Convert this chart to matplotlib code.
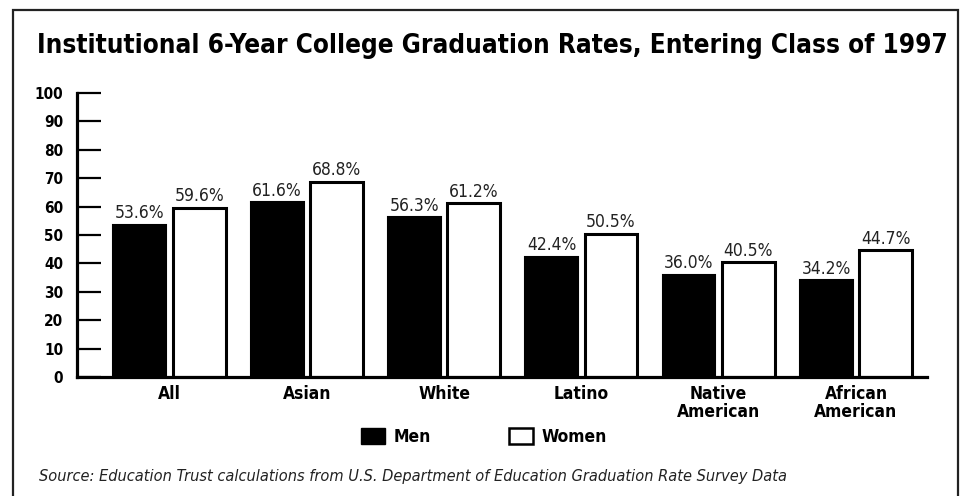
import matplotlib.pyplot as plt
from matplotlib import font_manager
from matplotlib.patches import Rectangle, Patch
import numpy as np

categories = ["All", "Asian", "White", "Latino", "Native\nAmerican", "African\nAmerican"]
men = [53.6, 61.6, 56.3, 42.4, 36.0, 34.2]
women = [59.6, 68.8, 61.2, 50.5, 40.5, 44.7]
yticks = [0, 10, 20, 30, 40, 50, 60, 70, 80, 90, 100]

title = "Institutional 6-Year College Graduation Rates, Entering Class of 1997"
source = "Source: Education Trust calculations from U.S. Department of Education Graduation Rate Survey Data"

# look for a narrow/condensed face, the original uses Helvetica Condensed
files = [f.fname for f in font_manager.fontManager.ttflist]

def pick(need, avoid):
    for f in files:
        low = f.lower().split("/")[-1]
        if not ("condensed" in low or "narrow" in low):
            continue
        if any(a in low for a in avoid + ["mono", "serif", "semi", "light", "extra", "black", "medium", "thin"]):
            continue
        if need and not any(n in low for n in need):
            continue
        return f
    return None

def fp(kind, size):
    if kind == "bold":
        f = pick(["bold"], ["oblique", "italic"])
    elif kind == "italic":
        f = pick(["oblique", "italic"], ["bold"])
    else:
        f = pick([], ["bold", "oblique", "italic"])
    if f is None:
        return font_manager.FontProperties(family="DejaVu Sans", size=size,
                                           weight="bold" if kind == "bold" else "normal",
                                           style="italic" if kind == "italic" else "normal")
    return font_manager.FontProperties(fname=f, size=size)

fig = plt.figure(figsize=(9.62, 4.96), dpi=100)
ax = fig.add_axes([0.080, 0.240, 0.8836, 0.5725])

x = np.arange(len(categories))
w = 0.385
off = 0.216
ax.bar(x - off, men, width=w, color="black", edgecolor="black", linewidth=1.5, label="Men")
ax.bar(x + off, women, width=w, color="white", edgecolor="black", linewidth=2.2, label="Women")

for xi, m, f in zip(x, men, women):
    ax.text(xi - off, m + 0.8, f"{m:.1f}%", ha="center", va="bottom", fontproperties=fp("regular", 12.5), color="#222222")
    ax.text(xi + off, f + 0.8, f"{f:.1f}%", ha="center", va="bottom", fontproperties=fp("regular", 12.5), color="#222222")

ax.set_xlim(-0.674, 5.517)
ax.set_ylim(0, 100)
ax.set_yticks(yticks)
ax.set_yticklabels([str(t) for t in yticks], fontproperties=fp("bold", 11))
ax.set_xticks(x)
ax.set_xticklabels(categories, fontproperties=fp("bold", 12.5), linespacing=0.95)
ax.tick_params(axis="y", direction="in", length=17, width=1.6, pad=10)
ax.tick_params(axis="x", length=0, pad=6)

for s in ["top", "right"]:
    ax.spines[s].set_visible(False)
ax.spines["left"].set_linewidth(2.3)
ax.spines["bottom"].set_linewidth(2.3)

handles = [Patch(facecolor="black", edgecolor="black", label="Men"),
           Patch(facecolor="white", edgecolor="black", linewidth=1.8, label="Women")]
leg = fig.legend(handles=handles, loc="center", bbox_to_anchor=(0.503, 0.119), ncol=2,
                 frameon=False, handlelength=1.38, handleheight=1.0, columnspacing=4.5,
                 handletextpad=0.5, prop=fp("bold", 12.5))

fig.text(0.038, 0.908, title, fontproperties=fp("bold", 18.7), ha="left", va="center")
fig.text(0.041, 0.040, source, fontproperties=fp("italic", 11.7), ha="left", va="center", color="#222222")

fig.add_artist(Rectangle((13 / 962, -0.05), 945 / 962, 1.05 - 10 / 496, transform=fig.transFigure,
                         fill=False, edgecolor="#222222", linewidth=1.6))

fig.savefig("out.png", dpi=100)
